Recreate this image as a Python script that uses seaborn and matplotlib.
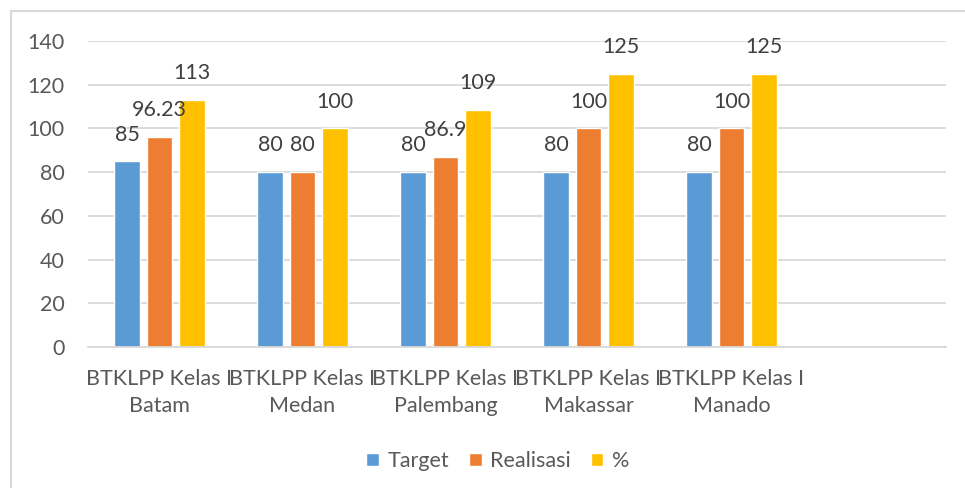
import pandas as pd
import seaborn as sns
import matplotlib.pyplot as plt
from matplotlib.patches import Rectangle

categories = ['BTKLPP Kelas I\nBatam', 'BTKLPP Kelas I\nMedan', 'BTKLPP Kelas I\nPalembang',
              'BTKLPP Kelas I\nMakassar', 'BTKLPP Kelas I\nManado']
target = [85, 80, 80, 80, 80]
realisasi = [96.23, 80, 86.9, 100, 100]
persen = [113, 100, 108.6, 125, 125]
series = ['Target', 'Realisasi', '%']
colors = ['#5B9BD5', '#ED7D31', '#FFC000']
y_ticks = [0, 20, 40, 60, 80, 100, 120, 140]

df = pd.DataFrame({
    'lokasi': categories * 3,
    'seri': [s for s in series for _ in categories],
    'nilai': target + realisasi + persen,
})

sns.set_style('white')
plt.rcParams['font.family'] = ['Lato', 'DejaVu Sans']
text_col = '#595959'
grid_col = '#d9d9d9'
fs = 15.5

fig = plt.figure(figsize=(9.65, 4.88), dpi=100)
ax = fig.add_axes([88 / 965, 1 - 347 / 488, (946 - 88) / 965, (347 - 41) / 488])

sns.barplot(data=df, x='lokasi', y='nilai', hue='seri', order=categories, hue_order=series,
            palette=colors, width=0.68, gap=0.2, saturation=1, ax=ax, legend=True)

for cont, s in zip(ax.containers, series):
    fmt = '%.0f' if s == '%' else '{:g}'
    ax.bar_label(cont, fmt=fmt, padding=12, fontsize=fs, color='#404040')

ax.set_xlim(-0.5, 5.5)
ax.set_ylim(0, 140)
ax.set_yticks(y_ticks)
ax.yaxis.grid(True, color=grid_col, linewidth=1.3)
ax.set_axisbelow(True)
for sp in ['top', 'right', 'left']:
    ax.spines[sp].set_visible(False)
ax.spines['bottom'].set_color(grid_col)
ax.spines['bottom'].set_linewidth(1.3)
ax.tick_params(axis='y', length=0, pad=17, labelsize=fs, labelcolor=text_col)
ax.tick_params(axis='x', length=0, pad=16, labelsize=fs, labelcolor=text_col)
for t in ax.get_xticklabels():
    t.set_linespacing(1.45)
ax.set_xlabel('')
ax.set_ylabel('')

handles, labels = ax.get_legend_handles_labels()
ax.get_legend().remove()
fig.legend(handles, labels, loc='center', bbox_to_anchor=(0.516, 1 - 461 / 488), ncol=3,
           frameon=False, fontsize=fs, labelcolor=text_col, handlelength=0.6,
           handleheight=0.6, handletextpad=0.4, columnspacing=0.9)

fig.patches.append(Rectangle((11 / 965, -0.1), 1.2, 1 - 11 / 488 + 0.1, transform=fig.transFigure,
                             fill=False, edgecolor=grid_col, linewidth=1.5))

fig.savefig('out.png', dpi=100)
